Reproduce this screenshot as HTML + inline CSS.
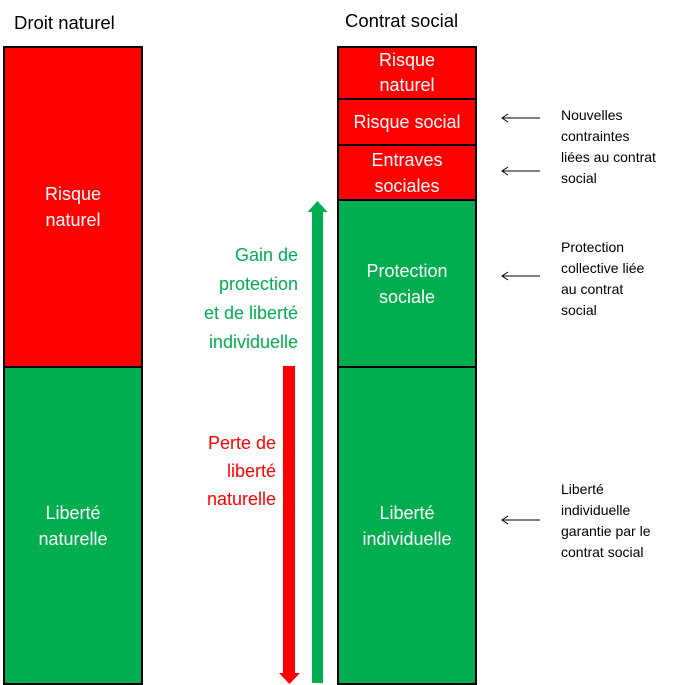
<!DOCTYPE html>
<html><head><style>
body{margin:0;width:684px;height:685px;background:#fff;position:relative;font-family:"Liberation Sans",sans-serif;overflow:hidden}
.b{position:absolute;box-sizing:border-box;border:2px solid #000;display:flex;align-items:center;justify-content:center;text-align:center;color:#fff;font-size:18px;line-height:26px}
.r{background:#ff0000}.g{background:#00ad4f}
.t{position:absolute;font-size:18.5px}
.n{position:absolute;font-size:14px;line-height:21px;color:#000}
</style></head><body>
<div class="t" style="left:14px;top:12px">Droit naturel</div>
<div class="t" style="left:345px;top:10px">Contrat social</div>
<div class="b r" style="left:3px;top:46px;width:140px;height:322px">Risque<br>naturel</div>
<div class="b g" style="left:3px;top:366px;width:140px;height:319px">Liberté<br>naturelle</div>
<div class="b r" style="left:337px;top:46px;width:140px;height:54px;line-height:25px">Risque<br>naturel</div>
<div class="b r" style="left:337px;top:98px;width:140px;height:48px">Risque social</div>
<div class="b r" style="left:337px;top:144px;width:140px;height:57px;line-height:26px">Entraves<br>sociales</div>
<div class="b g" style="left:337px;top:199px;width:140px;height:169px">Protection<br>sociale</div>
<div class="b g" style="left:337px;top:366px;width:140px;height:319px">Liberté<br>individuelle</div>
<svg style="position:absolute;left:0;top:0" width="684" height="685">
<rect x="312" y="212" width="11" height="471" fill="#00ad4f"/>
<polygon points="307.5,212 327.5,212 317.5,201" fill="#00ad4f"/>
<rect x="283" y="366" width="12" height="307" fill="#ff0000"/>
<polygon points="279,673 300,673 289.5,684" fill="#ff0000"/>
<g stroke="#000" stroke-width="1" fill="none">
<path d="M502 118H540M508 114L502 118L508 122"/>
<path d="M502 171H540M508 167L502 171L508 175"/>
<path d="M502 276H540M508 272L502 276L508 280"/>
<path d="M502 520H540M508 516L502 520L508 524"/>
</g>
</svg>
<div style="position:absolute;left:180px;top:241px;width:118px;text-align:right;color:#00ad4f;font-size:18px;line-height:29px">Gain de<br>protection<br>et de liberté<br>individuelle</div>
<div style="position:absolute;left:170px;top:429px;width:106px;text-align:right;color:#ff0000;font-size:18px;line-height:28px">Perte de<br>liberté<br>naturelle</div>
<div class="n" style="left:561px;top:105px">Nouvelles<br>contraintes<br>liées au contrat<br>social</div>
<div class="n" style="left:561px;top:237px">Protection<br>collective liée<br>au contrat<br>social</div>
<div class="n" style="left:561px;top:479px">Liberté<br>individuelle<br>garantie par le<br>contrat social</div>
</body></html>
